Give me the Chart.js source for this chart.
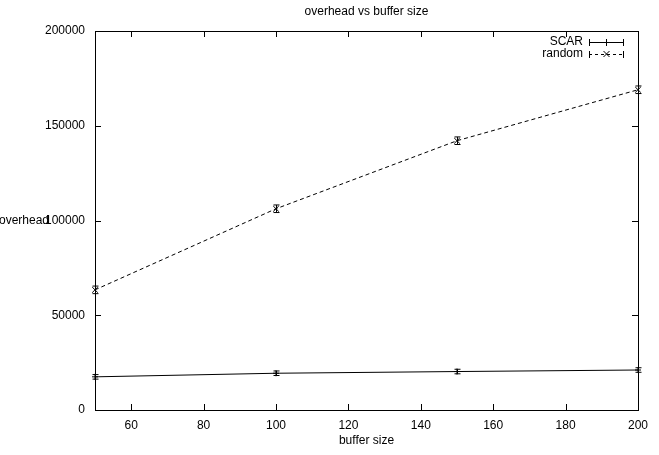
<!DOCTYPE html>
<html>
<head>
<meta charset="utf-8">
<script src="https://cdn.jsdelivr.net/npm/chart.js@4"></script>
<style>
  html, body { margin: 0; padding: 0; background: #fff; }
  #wrap { width: 659px; height: 455px; position: relative; }
</style>
</head>
<body>
<div id="wrap"><canvas id="overheadChart"></canvas></div>
<script>
// Data
const bufferSizes = [50, 100, 150, 200];
const scarOverhead = [17500, 19400, 20300, 21100];
const scarError = [1200, 1200, 1200, 1200];
const randomOverhead = [63400, 106200, 142100, 169000];
const randomError = [2000, 2000, 2000, 2000];

const xTicks = [60, 80, 100, 120, 140, 160, 180, 200];
const yTicks = [0, 50000, 100000, 150000, 200000];

const FONT = 'Liberation Sans, Arial, Helvetica, sans-serif';

/**
 * gnuplot-like frame, inward ticks, error bars, labels and key
 */
const gnuplotLook = {
    id: 'gnuplotLook',
    afterDatasetsDraw(chart) {
        const ctx = chart.ctx;
        const area = chart.chartArea;
        const xs = chart.scales.x;
        const ys = chart.scales.y;
        ctx.save();

        // error bars
        ctx.strokeStyle = '#000';
        ctx.lineWidth = 1;
        chart.data.datasets.forEach(ds => {
            ds.errors.forEach((err, i) => {
                const px = Math.round(xs.getPixelForValue(bufferSizes[i])) + 0.5;
                const top = ys.getPixelForValue(ds.data[i].y + err);
                const bot = ys.getPixelForValue(ds.data[i].y - err);
                ctx.beginPath();
                ctx.moveTo(px, top); ctx.lineTo(px, bot);
                ctx.moveTo(px - 3, top); ctx.lineTo(px + 3, top);
                ctx.moveTo(px - 3, bot); ctx.lineTo(px + 3, bot);
                ctx.stroke();
            });
        });

        // frame
        ctx.lineWidth = 1;
        ctx.strokeRect(Math.round(area.left) + 0.5, Math.round(area.top) + 0.5,
            Math.round(area.right - area.left), Math.round(area.bottom - area.top));

        // inward ticks, mirrored
        ctx.beginPath();
        xTicks.forEach(v => {
            const px = Math.round(xs.getPixelForValue(v)) + 0.5;
            ctx.moveTo(px, area.bottom); ctx.lineTo(px, area.bottom - 6);
            ctx.moveTo(px, area.top); ctx.lineTo(px, area.top + 6);
        });
        yTicks.forEach(v => {
            const py = Math.round(ys.getPixelForValue(v)) + 0.5;
            ctx.moveTo(area.left, py); ctx.lineTo(area.left + 6, py);
            ctx.moveTo(area.right, py); ctx.lineTo(area.right - 6, py);
        });
        ctx.stroke();

        // titles
        ctx.fillStyle = '#000';
        ctx.font = '12px ' + FONT;
        ctx.textAlign = 'center';
        ctx.textBaseline = 'middle';
        ctx.fillText('overhead vs buffer size', (area.left + area.right) / 2, 12);
        ctx.fillText('buffer size', (area.left + area.right) / 2, 441);
        ctx.fillText('overhead', 24, 221);

        // key
        const keyRows = [
            { label: 'SCAR', y: 42, dash: [], mark: '+' },
            { label: 'random', y: 54, dash: [3, 3], mark: 'x' }
        ];
        keyRows.forEach(row => {
            ctx.textAlign = 'right';
            ctx.fillText(row.label, 583, row.y);
            ctx.setLineDash(row.dash);
            ctx.beginPath();
            ctx.moveTo(589, row.y + 0.5); ctx.lineTo(623, row.y + 0.5);
            ctx.stroke();
            ctx.setLineDash([]);
            ctx.beginPath();
            [589, 623].forEach(ex => {
                ctx.moveTo(ex + 0.5, row.y - 3); ctx.lineTo(ex + 0.5, row.y + 4);
            });
            const cx = 606.5;
            if (row.mark === '+') {
                ctx.moveTo(cx, row.y - 3); ctx.lineTo(cx, row.y + 4);
            } else {
                ctx.moveTo(cx - 3, row.y - 3); ctx.lineTo(cx + 3, row.y + 3);
                ctx.moveTo(cx + 3, row.y - 3); ctx.lineTo(cx - 3, row.y + 3);
            }
            ctx.stroke();
        });

        ctx.restore();
    }
};

const ctx = document.getElementById('overheadChart').getContext('2d');
new Chart(ctx, {
    type: 'line',
    data: {
        datasets: [
            {
                label: 'SCAR',
                data: scarOverhead,
                errors: scarError,
                borderColor: '#000',
                borderWidth: 1,
                pointStyle: 'cross',
                pointRadius: 3,
                pointBorderColor: '#000',
                pointBorderWidth: 1,
                tension: 0,
                clip: false
            },
            {
                label: 'random',
                data: randomOverhead,
                errors: randomError,
                borderColor: '#000',
                borderWidth: 1,
                borderDash: [4, 3],
                pointStyle: 'crossRot',
                pointRadius: 4,
                pointBorderColor: '#000',
                pointBorderWidth: 1,
                tension: 0,
                clip: false
            }
        ].map(ds => Object.assign(ds, {
            data: ds.data.map((v, i) => ({ x: bufferSizes[i], y: v }))
        }))
    },
    options: {
        responsive: true,
        maintainAspectRatio: false,
        animation: false,
        devicePixelRatio: 1,
        layout: { padding: { left: 0, top: 31, right: 21, bottom: 0 } },
        plugins: {
            legend: { display: false },
            title: { display: false },
            tooltip: { enabled: false }
        },
        scales: {
            x: {
                type: 'linear',
                min: 50,
                max: 200,
                grid: { display: false },
                border: { display: false },
                afterBuildTicks: s => { s.ticks = xTicks.map(v => ({ value: v })); },
                afterFit: s => { s.height = 45; },
                ticks: { color: '#000', font: { family: FONT, size: 12 }, padding: 0, maxRotation: 0 }
            },
            y: {
                min: 0,
                max: 200000,
                grid: { display: false },
                border: { display: false },
                afterBuildTicks: s => { s.ticks = yTicks.map(v => ({ value: v })); },
                afterFit: s => { s.width = 95; },
                ticks: {
                    color: '#000',
                    font: { family: FONT, size: 12 },
                    padding: 2,
                    callback: v => String(v)
                }
            }
        }
    },
    plugins: [gnuplotLook]
});
</script>
</body>
</html>
